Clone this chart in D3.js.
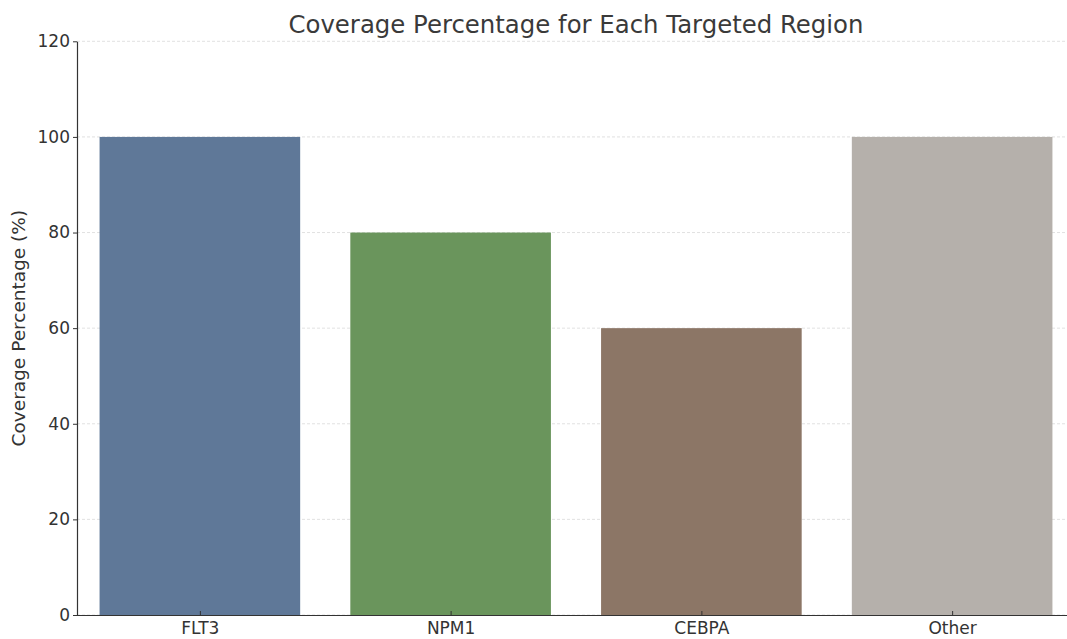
<!DOCTYPE html>
<html>
<head>
<meta charset="utf-8">
<script src="https://cdn.jsdelivr.net/npm/d3@7"></script>
<style>
  html, body { margin: 0; padding: 0; background: #fff; }
  svg { display: block; font-family: "DejaVu Sans", sans-serif; }
</style>
</head>
<body>
<svg id="chart" width="1067" height="639"></svg>
<script>
// Coverage per targeted region
const categories = ["FLT3", "NPM1", "CEBPA", "Other"];
const coverage = [100, 80, 60, 100];
const barColors = ["#5f7898", "#6a955c", "#8c7666", "#b5b0ab"];
const yTicks = [0, 20, 40, 60, 80, 100, 120];

const svg = d3.select("#chart");
const W = 1067, H = 639;
const plotLeft = 77, plotRight = 1075, plotTop = 41.3, plotBottom = 615;

// category positions on a continuous index axis
const x = d3.scaleLinear().domain([-0.49, 3.49]).range([plotLeft, plotRight]);
const barW = x(0.8) - x(0);
const y = d3.scaleLinear().domain([0, 120]).range([plotBottom, plotTop]);

// dashed horizontal grid
svg.append("g")
  .selectAll("line")
  .data(yTicks)
  .join("line")
  .attr("x1", plotLeft).attr("x2", W)
  .attr("y1", d => y(d)).attr("y2", d => y(d))
  .attr("stroke", "#d9d9d9")
  .attr("stroke-width", 0.8)
  .attr("stroke-dasharray", "3,2");

// bars
svg.append("g")
  .selectAll("rect")
  .data(categories)
  .join("rect")
  .attr("x", (d, i) => x(i) - barW / 2)
  .attr("y", (d, i) => y(coverage[i]))
  .attr("width", barW)
  .attr("height", (d, i) => y(0) - y(coverage[i]))
  .attr("fill", (d, i) => barColors[i]);

// y axis
const yAxis = svg.append("g")
  .attr("transform", `translate(${plotLeft},0)`)
  .call(d3.axisLeft(y).tickValues(yTicks).tickSize(4).tickPadding(3).tickSizeOuter(0));
yAxis.select(".domain").attr("stroke", "#333").attr("stroke-width", 1.2);
yAxis.selectAll(".tick line").attr("stroke", "#333");
yAxis.selectAll(".tick text")
  .attr("fill", "#333")
  .style("font-size", "17px")
  .style("font-family", "DejaVu Sans, sans-serif");

// x axis
const xAxis = svg.append("g")
  .attr("transform", `translate(0,${plotBottom})`)
  .call(d3.axisBottom(x)
    .tickValues(d3.range(categories.length))
    .tickFormat(i => categories[i])
    .tickSize(4).tickPadding(3)
    .tickSizeOuter(0));
xAxis.select(".domain")
  .attr("d", `M${plotLeft},0.5H${W}`)
  .attr("stroke", "#333").attr("stroke-width", 1.2);
xAxis.selectAll(".tick line").attr("stroke", "#333").attr("y1", -4).attr("y2", 0);
xAxis.selectAll(".tick text")
  .attr("fill", "#333")
  .style("font-size", "17px")
  .style("font-family", "DejaVu Sans, sans-serif");

// title
svg.append("text")
  .attr("x", (plotLeft + plotRight) / 2)
  .attr("y", 33)
  .attr("text-anchor", "middle")
  .attr("fill", "#3a3a3a")
  .style("font-size", "24.4px")
  .text("Coverage Percentage for Each Targeted Region");

// y-axis label
svg.append("text")
  .attr("transform", `translate(25,${(plotTop + plotBottom) / 2}) rotate(-90)`)
  .attr("text-anchor", "middle")
  .attr("fill", "#333")
  .style("font-size", "18.5px")
  .text("Coverage Percentage (%)");
</script>
</body>
</html>
